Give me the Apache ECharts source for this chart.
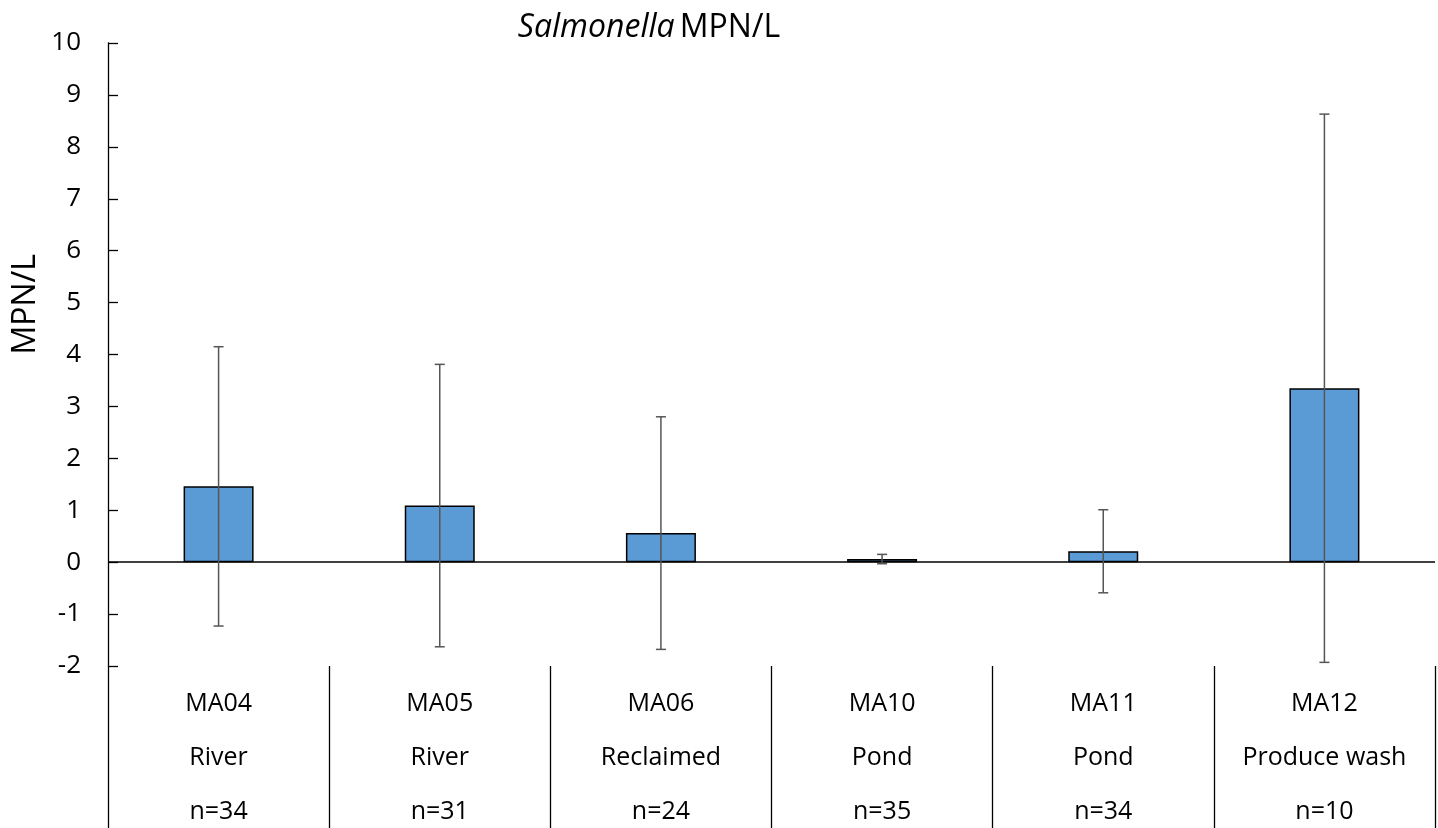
<!DOCTYPE html>
<html>
<head>
<meta charset="utf-8">
<script src="https://cdn.jsdelivr.net/npm/echarts@6/dist/echarts.min.js"></script>
<style>
  html, body { margin: 0; padding: 0; background: #fff; overflow: hidden; }
  #chart { width: 1438px; height: 828px; }
</style>
</head>
<body>
<div id="chart"></div>
<script>
// Sampling sites, water source and sample count
const sites = ['MA04', 'MA05', 'MA06', 'MA10', 'MA11', 'MA12'];
const sources = ['River', 'River', 'Reclaimed', 'Pond', 'Pond', 'Produce wash'];
const sampleCounts = [34, 31, 24, 35, 34, 10];

// Mean Salmonella MPN/L and standard deviation per site
const meanMPN = [1.46, 1.09, 0.56, 0.06, 0.21, 3.35];
const sdMPN = [2.69, 2.72, 2.24, 0.09, 0.80, 5.28];

// Value axis ticks
const yTicks = [-2, -1, 0, 1, 2, 3, 4, 5, 6, 7, 8, 9, 10];

const FONT = '"Open Sans", Lato, sans-serif';

const categories = sites.map((s, i) => s + '\n' + sources[i] + '\nn=' + sampleCounts[i]);
const errorData = meanMPN.map((m, i) => [i, m - sdMPN[i], m + sdMPN[i]]);

const chart = echarts.init(document.getElementById('chart'));
chart.setOption({
  animation: false,
  backgroundColor: '#ffffff',
  title: {
    text: '{i|Salmonella} {n|MPN/L}',
    left: 644,
    top: 7,
    textAlign: 'center',
    textStyle: {
      fontWeight: 'normal',
      rich: {
        i: { fontStyle: 'italic', fontWeight: 'normal', fontSize: 32, color: '#000', fontFamily: FONT },
        n: { fontWeight: 'normal', fontSize: 32, color: '#000', fontFamily: FONT }
      }
    }
  },
  graphic: [{
    type: 'text',
    left: 10,
    top: 254,
    rotation: Math.PI / 2,
    style: {
      text: 'MPN/L',
      fill: '#000',
      fontSize: 32,
      fontFamily: FONT
    }
  }],
  grid: {
    left: 108, right: 3, top: 43, bottom: 162,
    containLabel: false,
    outerBoundsMode: 'none'
  },
  xAxis: {
    type: 'category',
    data: categories,
    axisLine: { show: false, onZero: false },
    axisTick: {
      show: true,
      length: 162,
      inside: false,
      alignWithLabel: false,
      lineStyle: { color: '#000', width: 1.3 }
    },
    axisLabel: {
      color: '#000',
      fontSize: 25,
      fontFamily: FONT,
      lineHeight: 54,
      margin: 11,
      interval: 0
    },
    splitLine: { show: false }
  },
  yAxis: {
    type: 'value',
    min: yTicks[0],
    max: yTicks[yTicks.length - 1],
    interval: 1,
    axisLine: { show: true, lineStyle: { color: '#000', width: 1.3 } },
    axisTick: { show: true, inside: true, length: 10, lineStyle: { color: '#000', width: 1.3 } },
    axisLabel: {
      color: '#000',
      fontSize: 26,
      fontFamily: FONT,
      margin: 27,
      formatter: v => String(v)
    },
    splitLine: { show: false }
  },
  series: [
    {
      type: 'bar',
      data: meanMPN,
      barWidth: 70,
      itemStyle: { color: '#5b9bd5', borderColor: '#000', borderWidth: 1.5 },
      markLine: {
        silent: true,
        symbol: ['none', 'none'],
        label: { show: false },
        lineStyle: { color: '#000', width: 1.5, type: 'solid' },
        data: [{ yAxis: 0 }]
      },
      z: 2
    },
    {
      type: 'custom',
      data: errorData,
      z: 5,
      renderItem: function (params, api) {
        const x = api.value(0);
        const lo = api.coord([x, api.value(1)]);
        const hi = api.coord([x, api.value(2)]);
        const cap = 5;
        const style = { stroke: '#555', lineWidth: 1.5 };
        return {
          type: 'group',
          children: [
            { type: 'line', shape: { x1: lo[0], y1: lo[1], x2: hi[0], y2: hi[1] }, style: style },
            { type: 'line', shape: { x1: lo[0] - cap, y1: lo[1], x2: lo[0] + cap, y2: lo[1] }, style: style },
            { type: 'line', shape: { x1: hi[0] - cap, y1: hi[1], x2: hi[0] + cap, y2: hi[1] }, style: style }
          ]
        };
      }
    }
  ]
});
</script>
</body>
</html>
